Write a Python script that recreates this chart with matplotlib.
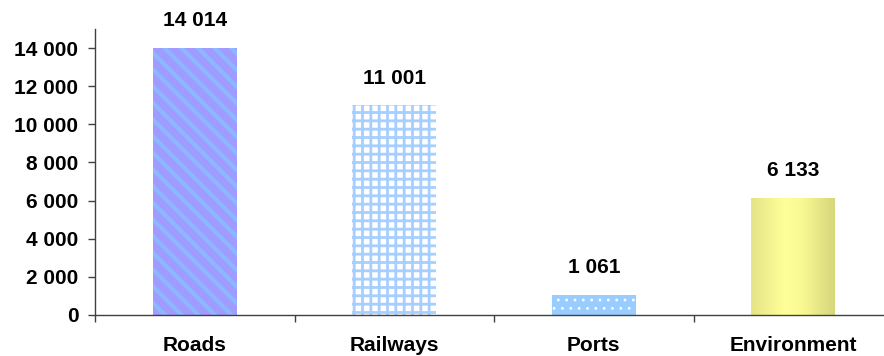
import matplotlib
matplotlib.use("Agg")
import matplotlib as mpl
import matplotlib.pyplot as plt
import numpy as np
from matplotlib.colors import LinearSegmentedColormap

categories = ["Roads", "Railways", "Ports", "Environment"]
values = [14014, 11001, 1061, 6133]
ytick_values = [0, 2000, 4000, 6000, 8000, 10000, 12000, 14000]
y_max = 15000


def spaced(v):
    return f"{v:,}".replace(",", " ")


plt.rcParams["font.family"] = ["Liberation Sans", "DejaVu Sans"]
plt.rcParams["font.weight"] = "bold"

fig = plt.figure(figsize=(8.84, 3.56), dpi=100)
ax = fig.add_axes([95 / 884, 41 / 356, 798 / 884, 286 / 356])

x = np.arange(len(categories))
width = 0.42

# per-bar fill styles: (face, hatch colour, hatch, hatch linewidth)
styles = [
    ("#A09CFF", "#8CB8FF", "\\\\", 3.0),
    ("#FFFFFF", "#A6CFFF", "++", 2.0),
    ("#99CCFF", "#FFFFFF", "..", 0.8),
    ("none", "none", None, 1.0),
]


def with_hatch_width(patch, lw):
    """Draw the patch with its own hatch line width."""
    orig = patch.draw

    def draw(renderer):
        with mpl.rc_context({"hatch.linewidth": lw}):
            orig(renderer)

    patch.draw = draw
    if hasattr(patch, "set_hatch_linewidth"):
        patch.set_hatch_linewidth(lw)


bars = []
for xi, v, (face, hc, hatch, hlw) in zip(x, values, styles):
    b = ax.bar(xi, v, width=width, color=face, edgecolor=hc,
               linewidth=0, hatch=hatch, zorder=2)[0]
    with_hatch_width(b, hlw)
    bars.append(b)

# horizontal yellow gradient for the last bar
env = bars[3]
cmap = LinearSegmentedColormap.from_list(
    "env", [(0.0, "#E4E488"), (0.4, "#FFFF99"), (0.6, "#FAFA94"), (1.0, "#D6D67C")])
grad = np.linspace(0, 1, 256).reshape(1, -1)
im = ax.imshow(grad, cmap=cmap, aspect="auto", zorder=2,
               extent=[env.get_x(), env.get_x() + env.get_width(), 0, env.get_height()])
im.set_clip_path(env)

for b, v in zip(bars, values):
    ax.annotate(spaced(v), (b.get_x() + b.get_width() / 2, b.get_height()),
                xytext=(0, 19.5), textcoords="offset points",
                ha="center", va="center", fontsize=15, fontweight="bold",
                color="black")

ax.set_xlim(-0.5, len(categories) - 0.5)
ax.set_ylim(0, y_max)

ax.set_yticks(ytick_values)
ax.set_yticklabels([spaced(t) for t in ytick_values], fontsize=15, fontweight="bold")
ax.set_xticks(x)
ax.set_xticklabels(categories, fontsize=15, fontweight="bold")
ax.set_xticks(np.arange(len(categories) + 1) - 0.5, minor=True)

spine_color = "#404040"
for side in ("top", "right"):
    ax.spines[side].set_visible(False)
for side in ("left", "bottom"):
    ax.spines[side].set_color(spine_color)
    ax.spines[side].set_linewidth(1.0)

ax.tick_params(axis="y", direction="out", length=5, width=1, color=spine_color, pad=7)
ax.tick_params(axis="x", which="major", length=0, pad=15)
ax.tick_params(axis="x", which="minor", direction="out", length=5, width=1, color=spine_color)

fig.savefig("out.png", dpi=100)
